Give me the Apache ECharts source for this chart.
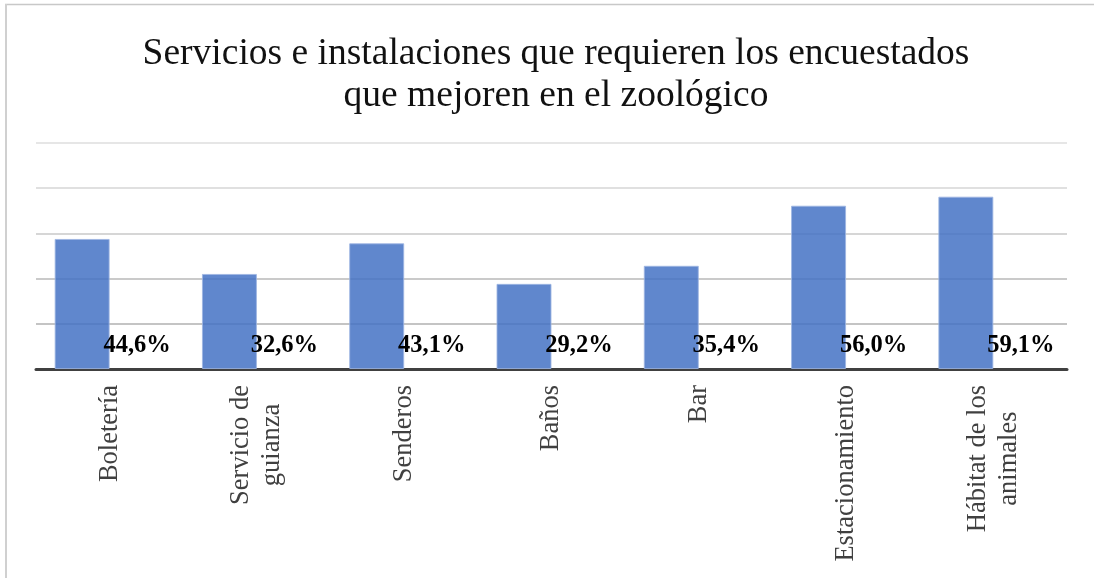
<!DOCTYPE html>
<html>
<head>
<meta charset="utf-8">
<script src="https://cdn.jsdelivr.net/npm/echarts@6/dist/echarts.min.js"></script>
<style>
html,body{margin:0;padding:0;background:#fff;}
#chart{width:1094px;height:578px;}
</style>
</head>
<body>
<div id="chart"></div>
<script>
var categories = ['Boletería', 'Servicio de\nguianza', 'Senderos', 'Baños', 'Bar', 'Estacionamiento', 'Hábitat de los\nanimales'];
var values = [44.6, 32.6, 43.1, 29.2, 35.4, 56.0, 59.1];
var titleText = 'Servicios e instalaciones que requieren los encuestados\nque mejoren en el zoológico';

var chart = echarts.init(document.getElementById('chart'), null, {renderer: 'canvas'});
var serif = '"Liberation Serif", "Times New Roman", serif';

var option = {
  backgroundColor: '#ffffff',
  animation: false,
  title: {
    text: titleText,
    left: 551,
    top: 28,
    textAlign: 'center',
    textStyle: {
      fontFamily: serif,
      fontSize: 37.5,
      fontWeight: 'normal',
      color: '#111111',
      lineHeight: 42
    }
  },
  graphic: [
    {type: 'line', shape: {x1: 5, y1: 4.5, x2: 1094, y2: 4.5}, style: {stroke: '#c8c8c8', lineWidth: 1.5}},
    {type: 'line', shape: {x1: 6, y1: 4, x2: 6, y2: 578}, style: {stroke: '#d0d0d0', lineWidth: 2}}
  ],
  grid: {left: 36, right: 27, top: 143, bottom: 209, containLabel: false},
  xAxis: {
    type: 'category',
    data: categories,
    axisLine: {show: true, lineStyle: {color: '#404040', width: 3}},
    axisTick: {show: false},
    axisLabel: {
      rotate: 90,
      margin: 16,
      interval: 0,
      fontFamily: serif,
      fontSize: 26.5,
      color: '#404040',
      lineHeight: 31,
      formatter: function (v) {
        return v.split('\n').map(function (s) { return '{c|' + s + '}'; }).join('\n');
      },
      rich: {
        c: {align: 'center', fontFamily: serif, fontSize: 26.5, color: '#404040', lineHeight: 31}
      }
    }
  },
  yAxis: {
    type: 'value',
    min: 0,
    max: 77.5,
    interval: 15.5,
    axisLabel: {show: false},
    axisLine: {show: false},
    axisTick: {show: false},
    splitLine: {show: true, lineStyle: {color: ['#a6a6a6', '#b0b0b0', '#b8b8b8', '#c8c8c8', '#d6d6d6', '#dedede'], width: 1.5}}
  },
  series: [
    {
      type: 'bar',
      data: values,
      barWidth: 55,
      barGap: '0%',
      itemStyle: {color: '#4472C4', opacity: 0.85, borderColor: '#9db5e2', borderWidth: 1},
      silent: true
    },
    {
      type: 'bar',
      data: values,
      barWidth: 55,
      barGap: '0%',
      itemStyle: {color: 'rgba(0,0,0,0)'},
      label: {
        show: true,
        position: 'insideBottom',
        distance: 11,
        fontFamily: serif,
        fontSize: 24.5,
        fontWeight: 'bold',
        color: '#000000',
        formatter: function (p) { return p.value.toFixed(1).replace('.', ',') + '%'; }
      },
      silent: true
    }
  ]
};
chart.setOption(option);
</script>
</body>
</html>
